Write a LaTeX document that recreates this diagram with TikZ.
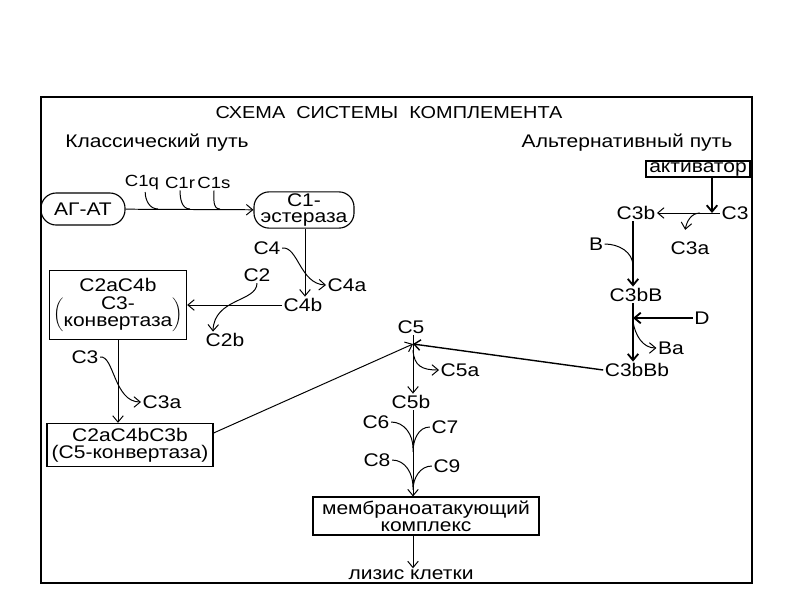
\documentclass[tikz,border=0pt]{standalone}
\usepackage{fontspec}
\setmainfont[FakeStretch=1.15]{Liberation Sans}
\usepackage{tikz}
\usetikzlibrary{arrows.meta}
\tikzstyle{rxhead}=[>/.tip={Straight Barb[length=4.5pt,width=7.5pt]}]
\tikzstyle{rx} =[line width=.7pt,rxhead,->]
\tikzstyle{rxt}=[line width=1.3pt,rxhead,->]
\tikzstyle{rxs}=[line width=.7pt]
\tikzstyle{lbl}=[inner sep=1pt,font=\fontsize{13}{12}\selectfont]
\tikzstyle{lbln}=[lbl,font=\fontsize{11.5}{12}\selectfont]
\tikzstyle{cbox}=[lbl,draw,line width=.8pt,align=center]
\tikzstyle{pill}=[cbox,rounded corners=.38cm]

\begin{document}
\begin{tikzpicture}[x=.025cm,y=-.025cm]
	\useasboundingbox (0,0) rectangle (800,600);
	\draw[line width=.8pt] (41,97) rectangle (752,583);
	\node[lbl,font=\fontsize{12.3}{12}\selectfont] (title) at (389,113) {СХЕМА\ \ СИСТЕМЫ\ \ КОМПЛЕМЕНТА};
	\node[lbl] (klass) at (157,143) {Классический путь};
	\node[lbl] (alt)   at (627,143) {Альтернативный путь};
	% classical pathway
	\node[pill,minimum width=2.1cm,minimum height=.8cm] (agat) at (83,209) {АГ-АТ};
	\node[pill,minimum width=2.5cm,minimum height=.85cm] (c1) at (304,210) {C1-\\эстераза};
	\node[lbln] (c1q) at (142,183) {C1q};
	\node[lbln] (c1r) at (180,183) {C1r};
	\node[lbln] (c1s) at (214,183) {C1s};
	\coordinate (jq) at (158,209);
	\coordinate (jr) at (190,209);
	\coordinate (js) at (220,209);
	\draw[rx] (agat) -- (c1);
	\draw[rxs] ([xshift=.08cm]c1q.south) to[out=-90,in=180] (jq);
	\draw[rxs] (c1r.south) to[out=-90,in=180] (jr);
	\draw[rxs] (c1s.south) to[out=-90,in=180] (js);
	\node[lbl] (c4)  at (267,248) {C4};
	\node[lbl] (c4a) at (347,285) {C4a};
	\node[lbl] (c4b) at (303,305) {C4b};
	\coordinate (j4) at (305,305);
	\draw[rx] (c1.south -| j4) -- (c4b.north -| j4);
	\draw[rx] (c4.east) .. controls (298,246) and (300,284) .. (c4a.west);
	\node[cbox,minimum width=3.43cm,minimum height=1.73cm] (c2c4) at (118,305)
		{C2aC4b\\[3pt]$\left(\begin{tabular}{@{}c@{}}C3-\\конвертаза\end{tabular}\right)$};
	\node[lbl] (c2)  at (257,275) {C2};
	\node[lbl] (c2b) at (225,340) {C2b};
	\draw[rx] (c4b.west) -- (c4b.west -| c2c4.east);
	\draw[rx] (c2.south) .. controls (257,302) and (214,298) .. ([xshift=-.3cm]c2b.north);
	\node[cbox,minimum width=4.15cm,minimum height=1.08cm] (c2c4c3) at (130,445)
		{C2aC4bC3b\\(C5-конвертаза)};
	\node[lbl] (c3l)  at (85,357) {C3};
	\node[lbl] (c3al) at (162,402) {C3a};
	\draw[rx] (c2c4.south) -- (c2c4.south |- c2c4c3.north);
	\draw[rx] (c3l.east) .. controls (114,355) and (114,402) .. (c3al.west);
	% terminal pathway
	\node[lbl] (c5)  at (411,327) {C5};
	\node[lbl] (c5a) at (460,370) {C5a};
	\node[lbl] (c5b) at (411,402) {C5b};
	\coordinate (p5) at (413,344);
	\draw[rx] (p5 |- c5.south) -- (p5 |- c5b.north);
	\draw[rx] ([yshift=.3cm]c2c4c3.east) -- (p5);
	\draw[rx] ([yshift=-.15cm]p5) .. controls (414,366) and (422,370) .. (c5a.west);
	\node[lbl] (c6) at (376,422) {C6};
	\node[lbl] (c7) at (445,427) {C7};
	\node[lbl] (c8) at (377,460) {C8};
	\node[lbl] (c9) at (447,466) {C9};
	\coordinate (j6) at (413,448);
	\coordinate (j7) at (413,452);
	\coordinate (j8) at (413,487);
	\coordinate (j9) at (413,490);
	\node[cbox,minimum width=5.65cm,minimum height=.95cm] (mac) at (426,516)
		{мембраноатакующий\\комплекс};
	\node[lbl] (lys) at (411,575) {лизис клетки};
	\draw[rx] (p5 |- c5b.south) -- (p5 |- mac.north);
	\draw[rxs] (c6.east) to[out=0,in=90] (j6);
	\draw[rxs] (j7) to[out=90,in=180] (c7.west);
	\draw[rxs] (c8.east) to[out=0,in=90] (j8);
	\draw[rxs] (j9) to[out=90,in=180] (c9.west);
	\draw[rx] (p5 |- mac.south) -- (p5 |- lys.north);
	% alternative pathway
	\node[cbox,line width=1.3pt,minimum width=2.6cm,minimum height=.4cm] (akt) at (698,169) {активатор};
	\node[lbl] (c3r)  at (735,213) {C3};
	\node[lbl] (c3b)  at (636,213) {C3b};
	\node[lbl] (c3ar) at (690,248) {C3a};
	\coordinate (ja) at (712,213);
	\coordinate (jc) at (700,213);
	\draw[rxt] (ja |- akt.south) -- (ja);
	\draw[rx] (c3r.west) -- (c3b.east);
	\draw[rx] (jc) to[out=180,in=80] ([xshift=-.12cm,yshift=.25cm]c3ar.north);
	\node[lbl] (b)    at (596,244) {B};
	\node[lbl] (c3bB) at (636,295) {C3bB};
	\coordinate (jB) at (633,266);
	\draw[rxt] (c3b.south -| jB) -- (c3bB.north -| jB);
	\draw[rxs] (b.east) to[out=0,in=90] (jB);
	\node[lbl] (d)     at (702,318) {D};
	\node[lbl] (ba)    at (671,348) {Ba};
	\node[lbl] (c3bBb) at (637,370) {C3bBb};
	\coordinate (jD) at (633,318);
	\draw[rxt] (c3bB.south -| jD) -- (c3bBb.north -| jD);
	\draw[rxt] (d.west) -- (jD);
	\draw[rx] ([yshift=-.1cm]jD) to[out=-80,in=180] (ba.west);
	\draw[rx,line width=1pt] (c3bBb.west) -- (p5);
\end{tikzpicture}
\end{document}
